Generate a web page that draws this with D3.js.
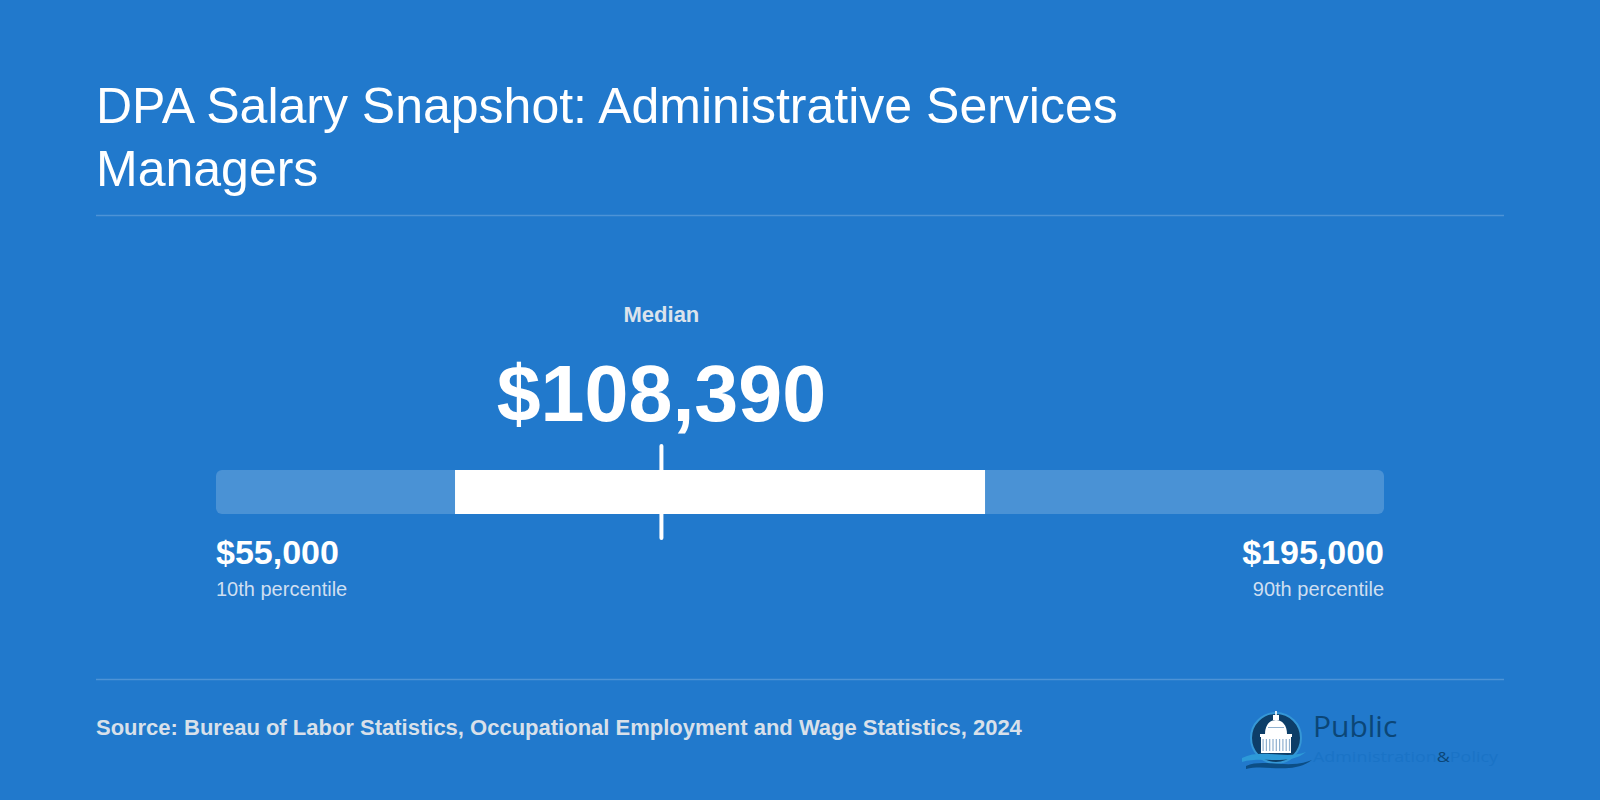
<!DOCTYPE html>
<html><head><meta charset="utf-8">
<script src="https://cdn.jsdelivr.net/npm/d3@7"></script>
<style>
html,body{margin:0;padding:0;background:#2179cc;}
svg{display:block;font-family:"Liberation Sans",Arial,Helvetica,sans-serif;}
</style></head>
<body>
<svg id="chart" width="1600" height="800"></svg>
<script>
const titleLines = ["DPA Salary Snapshot: Administrative Services", "Managers"];
const percentileKeys = ["p10", "p25", "median", "p75", "p90"];
const percentileValues = [55000, 83650, 108390, 147180, 195000];
const endLabels = ["10th percentile", "90th percentile"];
const medianLabel = "Median";
const sourceText = "Source: Bureau of Labor Statistics, Occupational Employment and Wage Statistics, 2024";

const W = 1600, H = 800;
const svg = d3.select("#chart");
svg.append("rect").attr("width", W).attr("height", H).attr("fill", "#2179cc");

const v = Object.fromEntries(percentileKeys.map((k, i) => [k, percentileValues[i]]));
const fmt = d => "$" + d3.format(",")(d);

// Title
const t = svg.append("text").attr("x", 96).attr("y", 123)
  .attr("fill", "#ffffff").attr("font-size", 50);
titleLines.forEach((l, i) => t.append("tspan").attr("x", 96).attr("dy", i === 0 ? 0 : 63).text(l));

// separators
svg.append("line").attr("x1", 96).attr("x2", 1504).attr("y1", 215.5).attr("y2", 215.5)
  .attr("stroke", "rgba(255,255,255,0.2)").attr("stroke-width", 1.5);
svg.append("line").attr("x1", 96).attr("x2", 1504).attr("y1", 679.5).attr("y2", 679.5)
  .attr("stroke", "rgba(255,255,255,0.2)").attr("stroke-width", 1.5);

// scale
const x = d3.scaleLinear().domain([v.p10, v.p90]).range([216, 1384]);
const barY = 470, barH = 44;

svg.append("rect").attr("x", x(v.p10)).attr("y", barY)
  .attr("width", x(v.p90) - x(v.p10)).attr("height", barH)
  .attr("rx", 6).attr("fill", "rgba(255,255,255,0.19)");

svg.append("rect").attr("x", x(v.p25)).attr("y", barY)
  .attr("width", x(v.p75) - x(v.p25)).attr("height", barH)
  .attr("fill", "#ffffff");

svg.append("line").attr("x1", x(v.median)).attr("x2", x(v.median))
  .attr("y1", 446).attr("y2", 538)
  .attr("stroke", "#ffffff").attr("stroke-width", 4).attr("stroke-linecap", "round");

// Median labels
svg.append("text").attr("x", x(v.median)).attr("y", 322).attr("text-anchor", "middle")
  .attr("font-size", 22).attr("font-weight", "bold").attr("fill", "#dbe3ec").text(medianLabel);
svg.append("text").attr("x", x(v.median)).attr("y", 421).attr("text-anchor", "middle")
  .attr("font-size", 79).attr("font-weight", "bold").attr("fill", "#ffffff").text(fmt(v.median));

// end labels
svg.append("text").attr("x", x(v.p10)).attr("y", 564).attr("font-size", 34)
  .attr("font-weight", "bold").attr("fill", "#ffffff").text(fmt(v.p10));
svg.append("text").attr("x", x(v.p10)).attr("y", 596).attr("font-size", 20)
  .attr("fill", "#cfdff1").text(endLabels[0]);
svg.append("text").attr("x", x(v.p90)).attr("y", 564).attr("font-size", 34).attr("text-anchor", "end")
  .attr("font-weight", "bold").attr("fill", "#ffffff").text(fmt(v.p90));
svg.append("text").attr("x", x(v.p90)).attr("y", 596).attr("font-size", 20).attr("text-anchor", "end")
  .attr("fill", "#cfdff1").text(endLabels[1]);

// source
svg.append("text").attr("x", 96).attr("y", 735).attr("font-size", 22)
  .attr("font-weight", "bold").attr("fill", "#d8e0ea").text(sourceText);

// logo
const logo = svg.append("g");
const cx = 1276, cy = 738;
logo.append("circle").attr("cx", cx).attr("cy", cy).attr("r", 25).attr("fill", "#0d3e68")
  .attr("stroke", "#3597d6").attr("stroke-width", 2);
// spire & lantern
logo.append("rect").attr("x", cx - 0.8).attr("y", 711).attr("width", 1.6).attr("height", 5).attr("fill", "#ffffff");
logo.append("rect").attr("x", cx - 3).attr("y", 715).attr("width", 6).attr("height", 5).attr("fill", "#ffffff");
// dome
logo.append("path").attr("fill", "#ffffff")
  .attr("d", `M${cx-11},734 C${cx-11},725 ${cx-6},720 ${cx},720 C${cx+6},720 ${cx+11},725 ${cx+11},734 Z`);
logo.append("rect").attr("x", cx - 16).attr("y", 734).attr("width", 32).attr("height", 3).attr("fill", "#ffffff");
logo.append("rect").attr("x", cx - 15).attr("y", 737).attr("width", 30).attr("height", 16).attr("fill", "#ffffff");
for (let i = 0; i < 9; i++) {
  logo.append("rect").attr("x", cx - 13.5 + i * 3.3).attr("y", 739).attr("width", 1.2).attr("height", 12).attr("fill", "#8fb0cf");
}
logo.append("rect").attr("x", cx - 8).attr("y", 727).attr("width", 16).attr("height", 1).attr("fill", "#8fb0cf");
// waves
logo.append("path").attr("fill", "#2d9ad8")
  .attr("d", `M1242,758 C1262,748 1285,760 1306,752 C1290,766 1262,756 1242,762 Z`);
logo.append("path").attr("fill", "#0c4e86")
  .attr("d", `M1246,766 C1264,758 1288,770 1312,760 C1292,775 1266,764 1246,769 Z`);
logo.append("text").attr("x", 1313).attr("y", 737).attr("font-family", "'Open Sans',sans-serif")
  .attr("font-size", 30).attr("fill", "#0b4677").text("Public");
const l2 = logo.append("text").attr("x", 1313).attr("y", 762).attr("font-family", "'Open Sans',sans-serif")
  .attr("font-size", 15).attr("fill", "#1a73c6").attr("textLength", 185).attr("lengthAdjust", "spacingAndGlyphs");
l2.append("tspan").text("Administration");
l2.append("tspan").attr("fill", "#0b4677").text("&");
l2.append("tspan").text("Policy");
</script>
</body></html>
